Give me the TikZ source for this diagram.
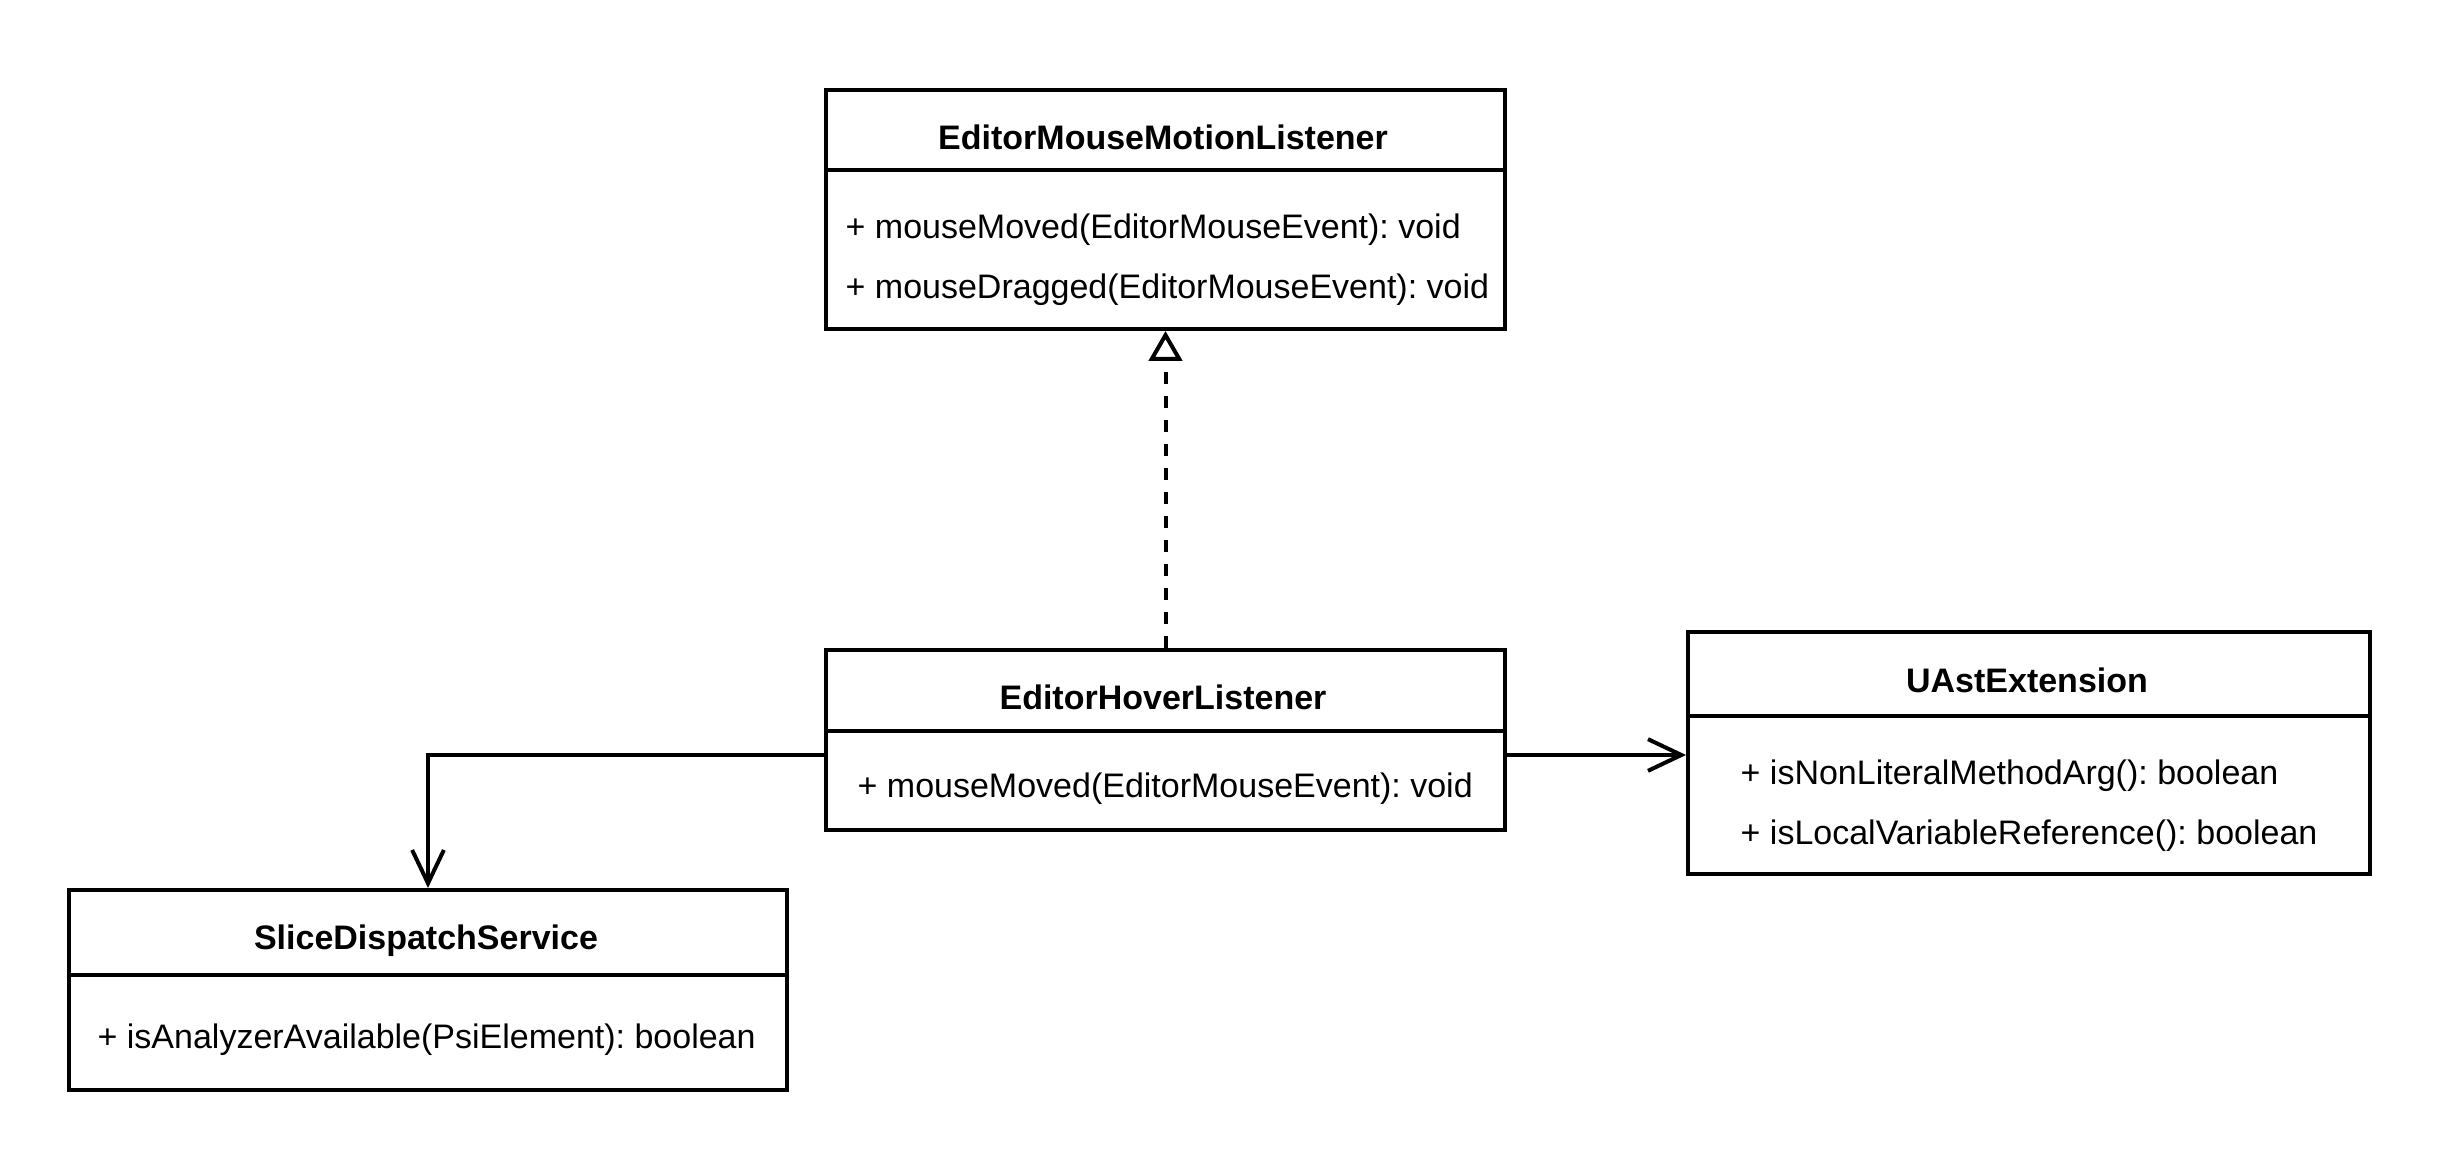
\documentclass[tikz,border=0pt]{standalone}
\usepackage{fontspec}
\setmainfont{Liberation Sans}
\usetikzlibrary{arrows.meta}
\frenchspacing
\begin{document}
\begin{tikzpicture}[x=0.3pt,y=-0.3pt,
  every node/.style={font=\fontsize{10.2}{12}\selectfont},
  box/.style={draw, line width=1.2pt, rectangle, inner sep=0pt, anchor=north west},
  title/.style={font=\fontsize{10.2}{12}\selectfont\bfseries},
  meth/.style={anchor=west, inner sep=0pt},
  assoc/.style={draw, line width=1.2pt, -{Straight Barb[length=10pt,width=9.5pt,line width=1.2pt]}},
  realize/.style={draw, line width=1.2pt, dash pattern=on 3.6pt off 3.6pt, -{Triangle[open,length=9pt,width=10pt,line width=1.2pt]}}
]
\fill[white] (0,0) rectangle (2452,1160);
\useasboundingbox (0,0) rectangle (2452,1160);

% EditorMouseMotionListener
\node[box, minimum width=203.7pt, minimum height=24pt] (emmlhead) at (824,88) {};
\node[box, minimum width=203.7pt, minimum height=47.7pt] (emmlbody) at (824,168) {};
\node[title] (emmlt) at (1163,137) {EditorMouseMotionListener};
\node[meth] (emmlm1) at (845,230) {+ mouseMoved(EditorMouseEvent): void};
\node[meth] (emmlm2) at (845,290) {+ mouseDragged(EditorMouseEvent): void};

% EditorHoverListener
\node[box, minimum width=203.7pt, minimum height=24.3pt] (ehlhead) at (824,648) {};
\node[box, minimum width=203.7pt, minimum height=29.7pt] (ehlbody) at (824,729) {};
\node[title] (ehlt) at (1163,697) {EditorHoverListener};
\node[meth] (ehlm1) at (857,789) {+ mouseMoved(EditorMouseEvent): void};

% UAstExtension
\node[box, minimum width=204.6pt, minimum height=25.2pt] (uasthead) at (1686,630) {};
\node[box, minimum width=204.6pt, minimum height=47.4pt] (uastbody) at (1686,714) {};
\node[title] (uastt) at (2027,680) {UAstExtension};
\node[meth] (uastm1) at (1740,776) {+ isNonLiteralMethodArg(): boolean};
\node[meth] (uastm2) at (1740,836) {+ isLocalVariableReference(): boolean};

% SliceDispatchService
\node[box, minimum width=215.4pt, minimum height=25.5pt] (sdshead) at (67,888) {};
\node[box, minimum width=215.4pt, minimum height=34.5pt] (sdsbody) at (67,973) {};
\node[title] (sdst) at (426,941) {SliceDispatchService};
\node[meth] (sdsm1) at (97,1040) {+ isAnalyzerAvailable(PsiElement): boolean};

% connectors
\coordinate (lstart) at ([yshift=-7.8pt]ehlbody.north west);
\coordinate (lbend) at (sdshead.north |- lstart);
\coordinate (rstart) at ([yshift=-7.8pt]ehlbody.north east);
\path[realize] (ehlhead.north) -- (emmlbody.south);
\path[assoc] (lstart) -- (lbend) -- (sdshead.north);
\path[assoc] (rstart) -- (uastbody.west |- rstart);
\end{tikzpicture}
\end{document}
